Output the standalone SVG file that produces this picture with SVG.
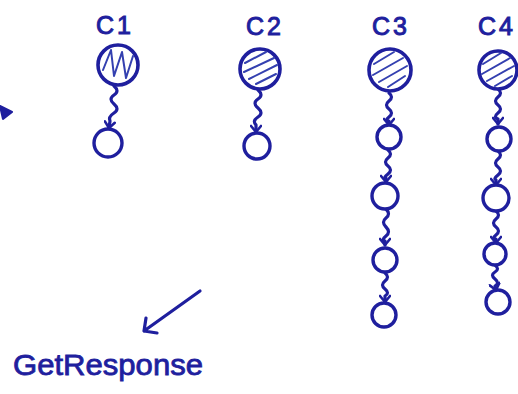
<svg xmlns="http://www.w3.org/2000/svg" width="518" height="394" viewBox="0 0 518 394">
<style>
.ink{fill:none;stroke:#1f1f9e;stroke-width:3.2;stroke-linecap:round;stroke-linejoin:round}
.hatch{fill:none;stroke:#3440b0;stroke-width:2;stroke-linecap:round;stroke-linejoin:round}
.lbl{font-family:"Liberation Sans",Arial,sans-serif;font-size:25px;fill:#1f1f9e;stroke:#1f1f9e;stroke-width:1;text-anchor:middle;letter-spacing:3px}
.small{fill:#fff;stroke:#1f1f9e;stroke-width:3.4}
.big{fill:#fff;stroke:#1f1f9e;stroke-width:3.6}
</style>
<defs>
<marker id="v" viewBox="0 0 12 12" refX="10" refY="6" markerWidth="12" markerHeight="12" markerUnits="userSpaceOnUse" orient="auto">
<path d="M4,1 L10,6 L4,11" fill="none" stroke="#1f1f9e" stroke-width="2.6" stroke-linecap="round" stroke-linejoin="round"/>
</marker>
</defs>
<rect width="518" height="394" fill="#fff"/>

<g id="connectors">
<path class="ink" marker-end="url(#v)" d="M114 86 q6 5 0 9 t0 9 t0 9 t-4 8 l-1 7"/>
<path class="ink" marker-end="url(#v)" d="M258 90 q6 5 0 9 t0 9 t0 9 t-2 8 l0 7"/>
<path class="ink" marker-end="url(#v)" d="M389 93 q5 4 0 8 t0 8 t0 8 t0 4 l0 4"/>
<path class="ink" marker-end="url(#v)" d="M388 150 q5 4 0 8 t0 8 t0 8 t-2 4 l0 4"/>
<path class="ink" marker-end="url(#v)" d="M386 209 q5 5 0 9 t0 9 t0 9 t-1 5 l0 4"/>
<path class="ink" marker-end="url(#v)" d="M385 273 q5 4 0 8 t0 8 t0 7 l0 6"/>
<path class="ink" marker-end="url(#v)" d="M498 89 q5 4 0 8 t0 8 t0 8 t0 6 l0 5"/>
<path class="ink" marker-end="url(#v)" d="M498 151 q5 4 0 8 t0 8 t0 8 t-2 5 l0 5"/>
<path class="ink" marker-end="url(#v)" d="M496 211 q5 4 0 8 t0 8 t0 8 t0 4 l0 4"/>
<path class="ink" marker-end="url(#v)" d="M495 265 q5 4 0 7 t0 7 t0 7 l1 4"/>
<path class="ink" d="M200 291 L144 331 M146 318 L144 331 L157 333"/>
<path d="M0 106 L12 112 L3 119 Z" fill="#1f1f9e" stroke="#1f1f9e" stroke-width="2" stroke-linejoin="round"/>
</g>

<g id="c1">
<text class="lbl" x="115" y="34">C1</text>
<circle class="big" cx="118" cy="65" r="20"/>
<path class="hatch" d="M103 70 L111 50 L114 76 L122 52 L126 78 L133 56"/>
<circle class="small" cx="108" cy="143" r="14"/>
</g>

<g id="c2">
<text class="lbl" x="265" y="35">C2</text>
<circle class="big" cx="260" cy="69" r="20"/>
<path class="hatch" d="M245 63 L266 52 M244 72 L274 58 M249 79 L277 65 M256 84 L276 74"/>
<circle class="small" cx="257" cy="146" r="13"/>
</g>

<g id="c3">
<text class="lbl" x="391" y="35">C3</text>
<circle class="big" cx="390" cy="70" r="21"/>
<path class="hatch" d="M374 64 L394 52 M373 75 L403 58 M379 82 L407 66 M388 87 L405 76"/>
<circle class="small" cx="389" cy="137" r="12"/>
<circle class="small" cx="385" cy="196" r="13"/>
<circle class="small" cx="385" cy="260" r="12"/>
<circle class="small" cx="384" cy="315" r="12"/>
</g>

<g id="c4">
<text class="lbl" x="497" y="35">C4</text>
<circle class="big" cx="498" cy="70" r="19"/>
<path class="hatch" d="M483 64 L501 53 M482 74 L510 58 M487 81 L514 66 M495 86 L512 76"/>
<circle class="small" cx="499" cy="139" r="12"/>
<circle class="small" cx="496" cy="198" r="13"/>
<circle class="small" cx="495" cy="254" r="11"/>
<circle class="small" cx="498" cy="302" r="12"/>
</g>

<g id="getresponse">
<text x="13" y="375" font-family="'Liberation Sans',Arial,sans-serif" font-size="29" fill="#1f1f9e" stroke="#1f1f9e" stroke-width="0.8" textLength="190" lengthAdjust="spacingAndGlyphs">GetResponse</text>
</g>
</svg>
